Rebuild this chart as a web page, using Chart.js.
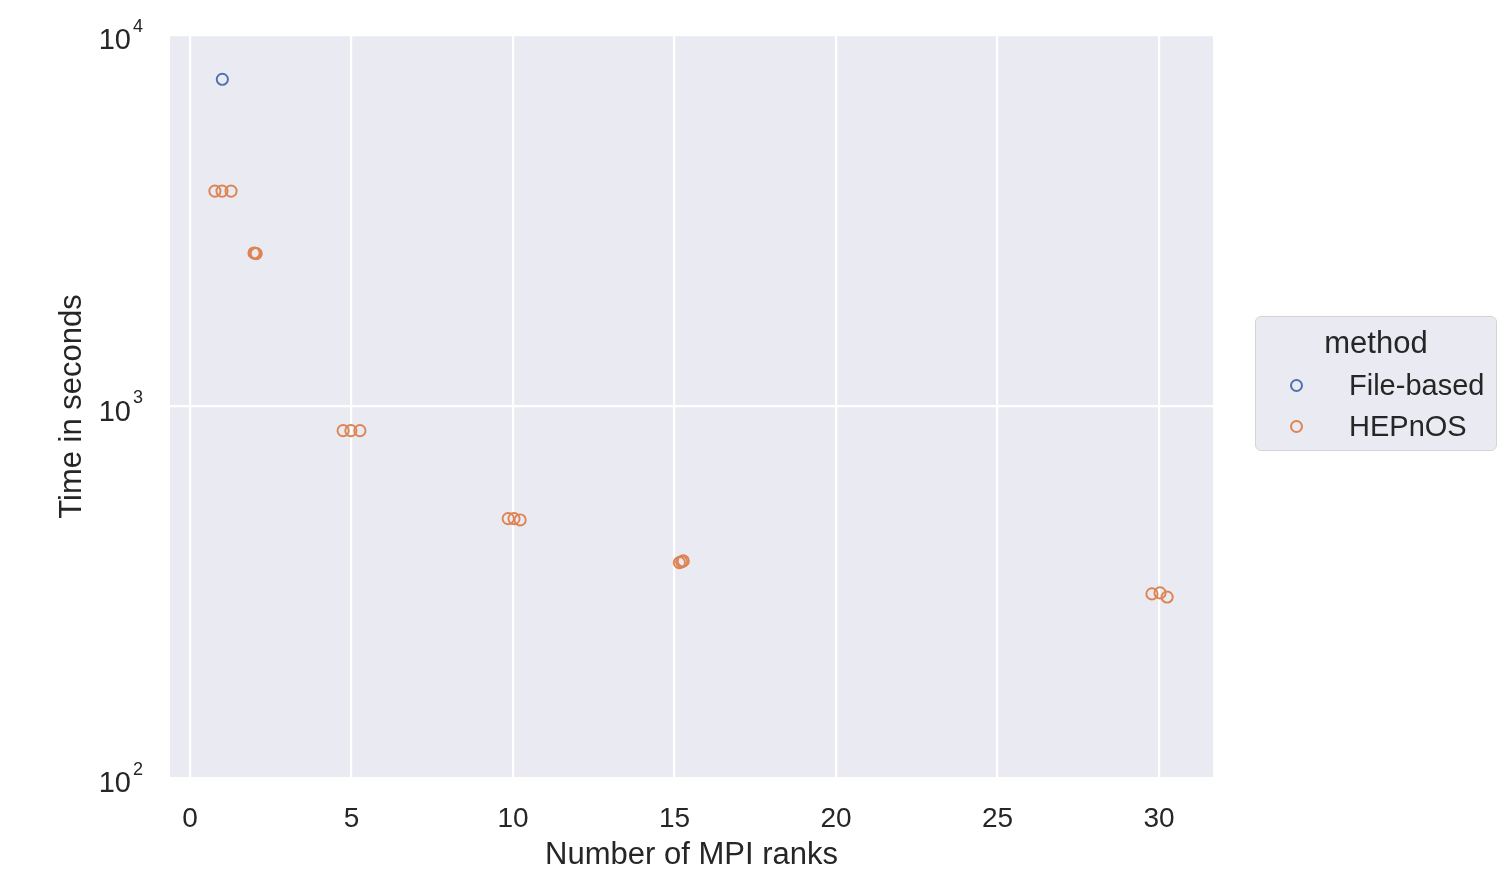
<!DOCTYPE html>
<html>
<head>
<meta charset="utf-8">
<script src="https://cdn.jsdelivr.net/npm/chart.js@4.4.1/dist/chart.umd.min.js"></script>
<style>
  body { margin: 0; background: #fff; }
  #wrap { position: relative; width: 1505px; height: 871px; }
  #legend {
    position: absolute; left: 1255px; top: 316px; width: 240px; height: 133px;
    background: #eaeaf2; border: 1.5px solid #d3d3d8; border-radius: 6px;
    font-family: "Liberation Sans", Arial, sans-serif; color: #262626;
  }
  #legend .title { position: absolute; left: 0; width: 100%; top: 8px; text-align: center; font-size: 31px; }
  #legend .row { position: absolute; left: 0; font-size: 29px; }
  #legend .dot { position: absolute; left: 34px; width: 9px; height: 9px; border-radius: 50%; border: 2px solid; }
  #legend .lab { position: absolute; left: 93px; white-space: nowrap; }
</style>
</head>
<body>
<div id="wrap">
  <canvas id="c" width="1505" height="871"></canvas>
  <div id="legend">
    <div class="title">method</div>
    <div class="row" style="top:52px"><span class="dot" style="border-color:#4c72b0;top:10px"></span><span class="lab">File-based</span></div>
    <div class="row" style="top:93px"><span class="dot" style="border-color:#dd8452;top:10px"></span><span class="lab">HEPnOS</span></div>
  </div>
</div>
<script>
// data (x jittered around the rank counts)
const fileRanks = [1];
const fileTimes = [7600];
const hepRanks = [0.77, 0.99, 1.27, 1.98, 2.02, 2.05, 4.74, 4.98, 5.26, 9.85, 10.03, 10.22, 15.15, 15.22, 15.27, 29.78, 30.03, 30.25];
const hepTimes = [3800, 3800, 3800, 2590, 2585, 2580, 861, 861, 861, 499, 499, 495, 380, 382, 384, 313, 315, 307];
const xTicks = [0, 5, 10, 15, 20, 25, 30];
const yTicks = [100, 1000, 10000];
const yTickExp = ['2', '3', '4'];

const FONT = '"Liberation Sans", Arial, sans-serif';
const TXT = '#262626';

function pts(xs, ys) { return xs.map((x, i) => ({ x: x, y: ys[i] })); }

const plotBg = {
  id: 'plotBg',
  beforeDraw(chart) {
    const a = chart.chartArea, ctx = chart.ctx;
    ctx.save();
    ctx.fillStyle = '#eaeaf2';
    ctx.fillRect(a.left, a.top, a.right - a.left, a.bottom - a.top);
    ctx.restore();
  }
};

// 10^n labels for the log axis
const powLabels = {
  id: 'powLabels',
  afterDraw(chart) {
    const y = chart.scales.y, ctx = chart.ctx;
    ctx.save();
    ctx.fillStyle = TXT;
    ctx.textBaseline = 'middle';
    yTicks.forEach((v, i) => {
      const py = y.getPixelForValue(v);
      ctx.font = '29px ' + FONT;
      ctx.textAlign = 'right';
      ctx.fillText('10', 131, py + 6);
      ctx.font = '18px ' + FONT;
      ctx.textAlign = 'left';
      ctx.fillText(yTickExp[i], 133, py - 8);
    });
    ctx.restore();
  }
};

new Chart(document.getElementById('c'), {
  type: 'scatter',
  data: {
    datasets: [
      { label: 'File-based', data: pts(fileRanks, fileTimes), borderColor: '#4c72b0' },
      { label: 'HEPnOS', data: pts(hepRanks, hepTimes), borderColor: '#dd8452' }
    ]
  },
  options: {
    responsive: false,
    animation: false,
    layout: { padding: { top: 35, right: 292, left: 0, bottom: 0 } },
    elements: { point: { radius: 5.6, borderWidth: 1.9, backgroundColor: 'rgba(0,0,0,0)' } },
    plugins: { legend: { display: false }, tooltip: { enabled: false } },
    scales: {
      x: {
        type: 'linear', min: -0.62, max: 31.67,
        afterBuildTicks: s => { s.ticks = xTicks.map(v => ({ value: v })); },
        afterFit: s => { s.height = 93; },
        grid: { color: '#ffffff', lineWidth: 2.2, drawTicks: false },
        border: { display: false },
        ticks: { color: TXT, font: { family: FONT, size: 28 }, padding: 24, maxRotation: 0 },
        title: { display: true, text: 'Number of MPI ranks', color: TXT, font: { family: FONT, size: 31, lineHeight: 1 }, padding: { top: 0, bottom: 0 } }
      },
      y: {
        type: 'logarithmic', min: 100, max: 10000,
        afterBuildTicks: s => { s.ticks = yTicks.map(v => ({ value: v })); },
        afterFit: s => { s.width = 170; },
        grid: { color: '#ffffff', lineWidth: 2.2, drawTicks: false },
        border: { display: false },
        ticks: { display: false },
        title: { display: true, text: 'Time in seconds', color: TXT, font: { family: FONT, size: 31 }, padding: { top: 54, bottom: 0 } }
      }
    }
  },
  plugins: [plotBg, powLabels]
});
</script>
</body>
</html>
